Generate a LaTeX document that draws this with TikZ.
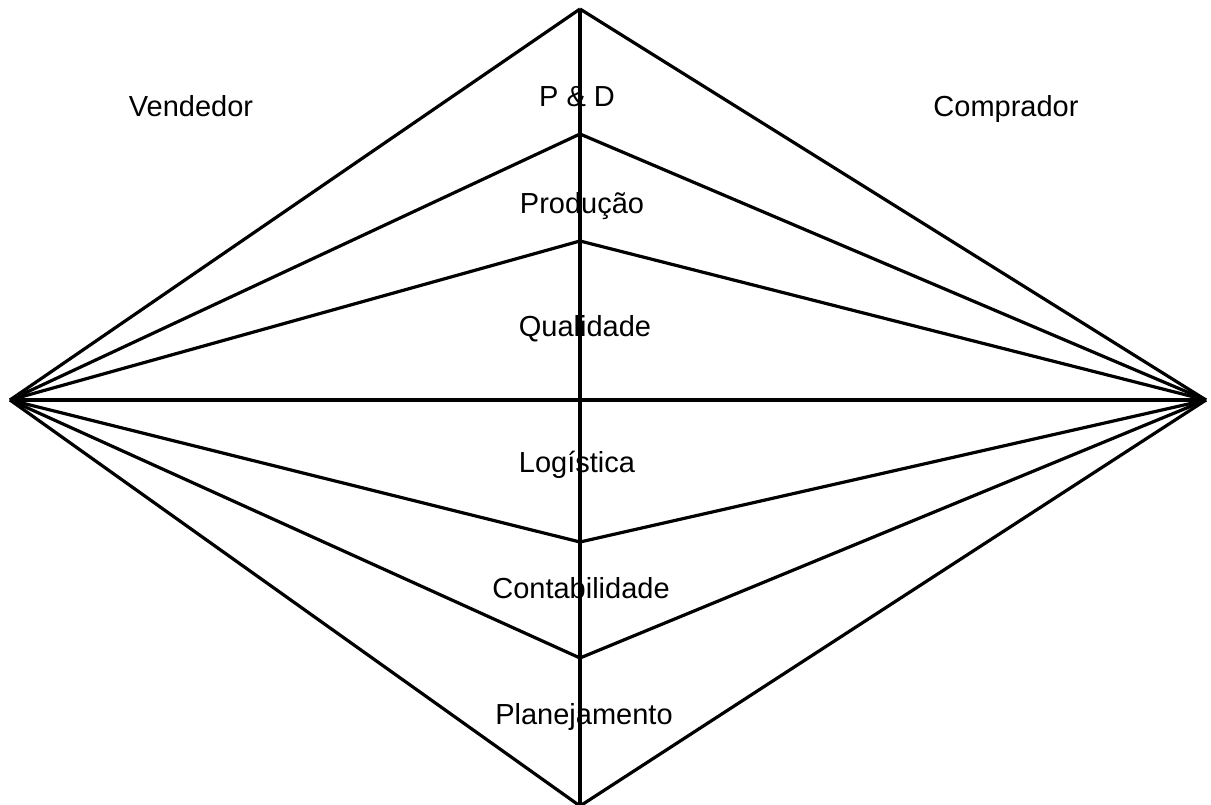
\documentclass[tikz,border=0pt]{standalone}
\usepackage{fontspec}
\setmainfont{Liberation Sans}
\usepackage{tikz}

\begin{document}
\begin{tikzpicture}[x=1pt,y=-1pt,line width=3.2pt,
    lbl/.style={anchor=base,inner sep=0pt,font=\fontsize{29}{34}\selectfont}]
        \useasboundingbox (0,0) rectangle (1211,805);
        % vertices of the diamond
        \coordinate (vend) at (10,400);
        \coordinate (comp) at (1206,400);
        \coordinate (topo) at (580,9);
        \coordinate (base) at (580,806);
        % points on the middle line
        \coordinate (pd) at (580,134);
        \coordinate (prod) at (580,241);
        \coordinate (logi) at (580,542);
        \coordinate (cont) at (580,658);
        \draw (topo) -- (base);
        \draw (vend) -- (comp);
        \draw (vend) -- (topo);
        \draw (comp) -- (topo);
        \draw (vend) -- (pd);
        \draw (comp) -- (pd);
        \draw (vend) -- (prod);
        \draw (comp) -- (prod);
        \draw (vend) -- (logi);
        \draw (comp) -- (logi);
        \draw (vend) -- (cont);
        \draw (comp) -- (cont);
        \draw (vend) -- (base);
        \draw (comp) -- (base);
        \node[lbl] (vendedor) at (191,117) {Vendedor};
        \node[lbl] (comprador) at (1006,117) {Comprador};
        \node[lbl] (pdlbl) at (577,107) {P \& D};
        \node[lbl] (prodlbl) at (582,214) {Produção};
        \node[lbl] (quallbl) at (585,337) {Qualidade};
        \node[lbl] (logilbl) at (577,472) {Logística};
        \node[lbl] (contlbl) at (581,598) {Contabilidade};
        \node[lbl] (planlbl) at (584,724) {Planejamento};
    \end{tikzpicture}
\end{document}
